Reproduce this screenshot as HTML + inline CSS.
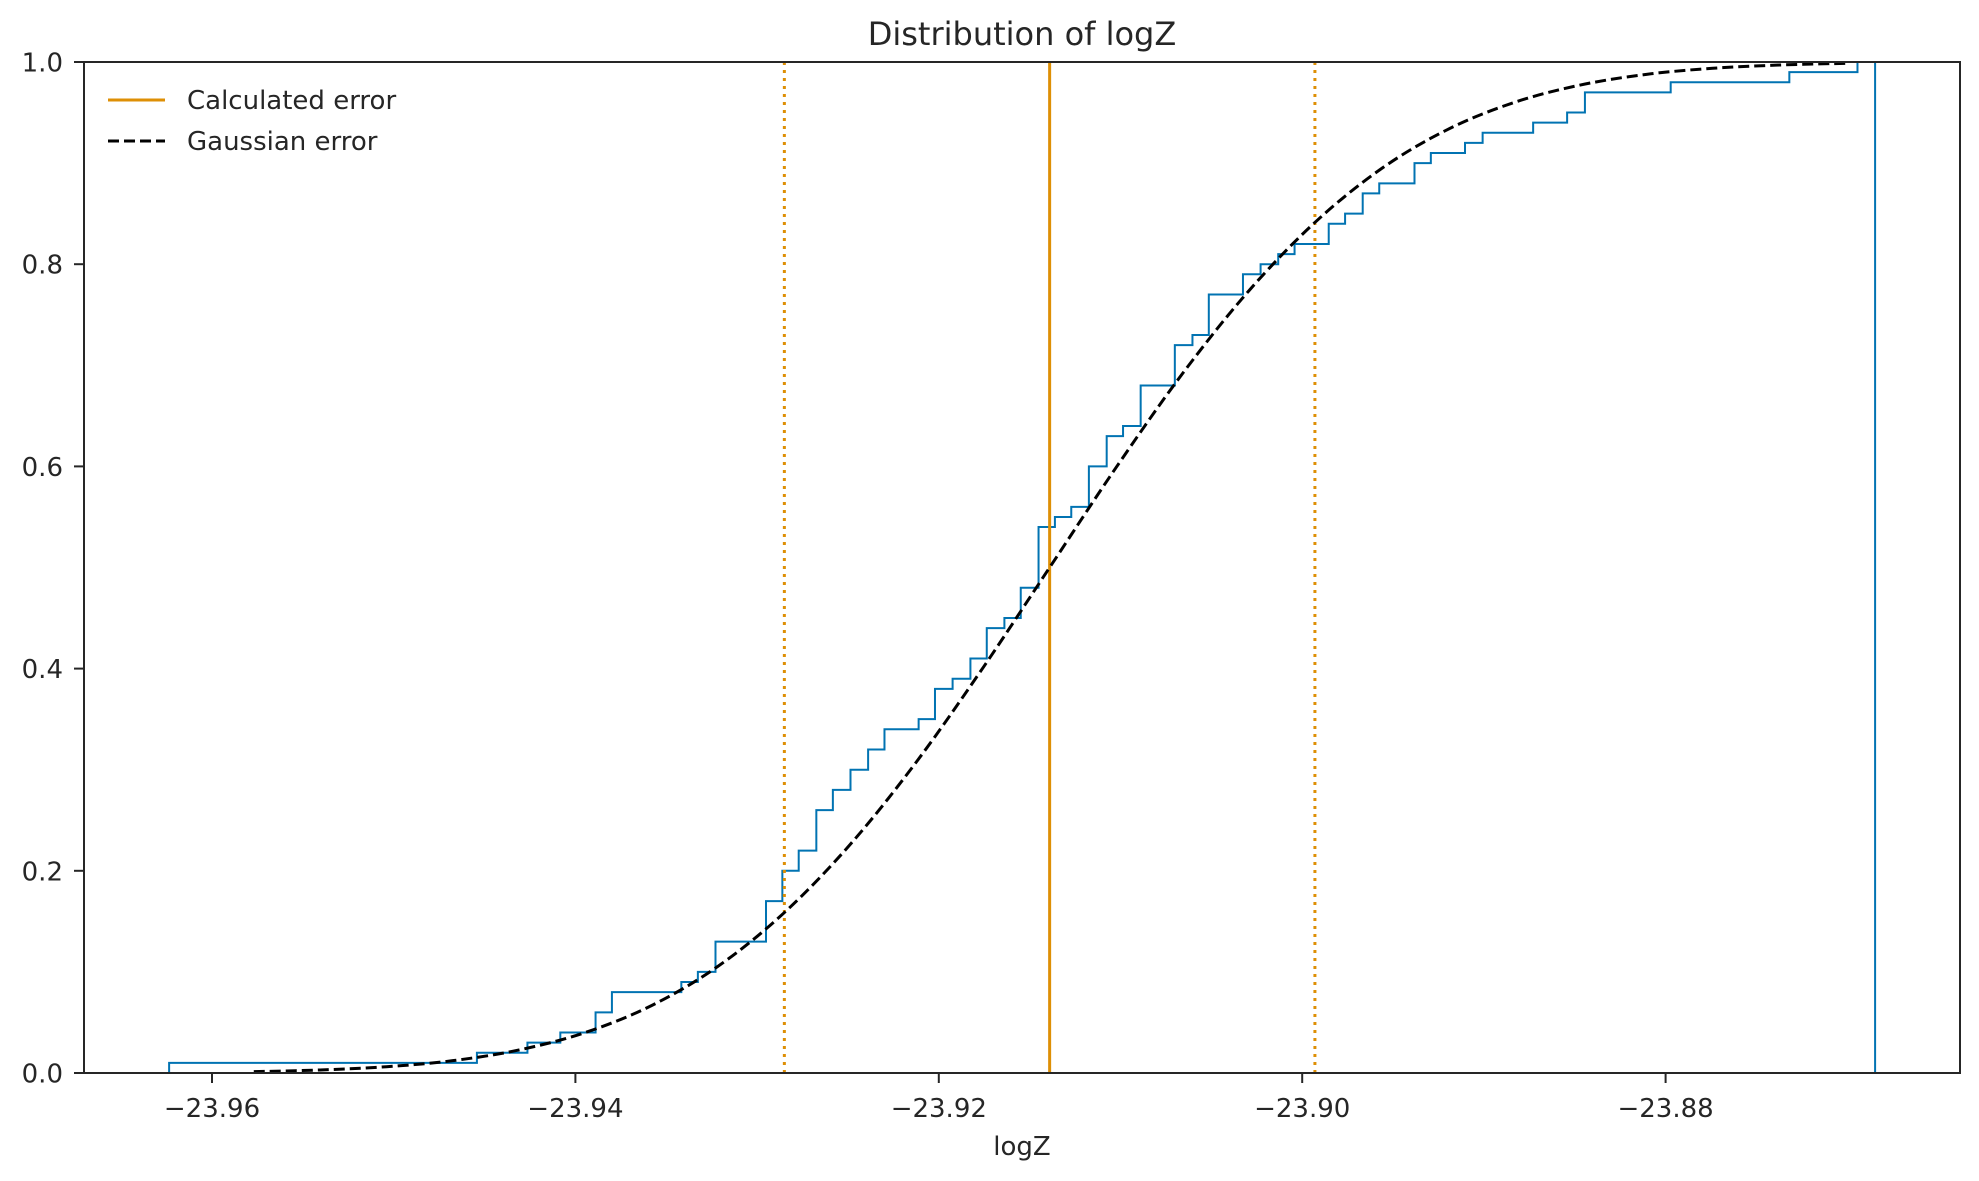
<!DOCTYPE html>
<html><head><meta charset="utf-8"><style>
html,body{margin:0;padding:0;background:#fff;}
svg{display:block;font-family:"DejaVu Sans","Liberation Sans",sans-serif;}
</style></head><body>
<svg id="chart" width="1979" height="1181" viewBox="0 0 1979 1181" xmlns="http://www.w3.org/2000/svg">
<rect width="1979" height="1181" fill="#fff"/>
<text x="1022" y="45" font-size="32" fill="#262626" text-anchor="middle">Distribution of logZ</text>
<g id="marks"></g>
<g id="axes"></g>
<g>
  <line x1="108" y1="100" x2="165" y2="100" stroke="#de8f05" stroke-width="3"/>
  <text x="187" y="109" font-size="26" fill="#262626">Calculated error</text>
  <line x1="108" y1="141" x2="165" y2="141" stroke="#000" stroke-width="3" stroke-dasharray="11,5"/>
  <text x="187" y="150" font-size="26" fill="#262626">Gaussian error</text>
</g>
</svg>
<script>
// ECDF step positions (logZ) and cumulative levels after each step
const stepX = [-23.96236,-23.94542,-23.94264,-23.94083,-23.93889,-23.93799,-23.93417,-23.93326,-23.93229,-23.92951,-23.92861,-23.92771,-23.92674,-23.92583,-23.92486,-23.92389,-23.92299,-23.92111,-23.92021,-23.91924,-23.91826,-23.91736,-23.91639,-23.91549,-23.91451,-23.91361,-23.91271,-23.91174,-23.91076,-23.90986,-23.90889,-23.90701,-23.90604,-23.90514,-23.90326,-23.90229,-23.90132,-23.90042,-23.89854,-23.89764,-23.89667,-23.89576,-23.89382,-23.89292,-23.89104,-23.89007,-23.88729,-23.88542,-23.88444,-23.87972,-23.87319,-23.86944];
const stepY = [0.01,0.02,0.03,0.04,0.06,0.08,0.09,0.10,0.13,0.17,0.20,0.22,0.26,0.28,0.30,0.32,0.34,0.35,0.38,0.39,0.41,0.44,0.45,0.48,0.54,0.55,0.56,0.60,0.63,0.64,0.68,0.72,0.73,0.77,0.79,0.80,0.81,0.82,0.84,0.85,0.87,0.88,0.90,0.91,0.92,0.93,0.94,0.95,0.97,0.98,0.99,1.00];
const histEnd = -23.86847;
// Gaussian CDF curve points
const gaussX = [-23.9577,-23.95405,-23.9504,-23.94675,-23.9431,-23.93945,-23.9358,-23.93215,-23.9285,-23.92485,-23.9212,-23.91755,-23.9139,-23.91025,-23.9066,-23.90295,-23.8993,-23.89565,-23.892,-23.88835,-23.8847,-23.88105,-23.8774,-23.87375,-23.8701];
const gaussY = [0.0013,0.0030,0.0062,0.0122,0.0228,0.0401,0.0668,0.1056,0.1587,0.2266,0.3085,0.4013,0.5,0.5987,0.6915,0.7734,0.8413,0.8944,0.9332,0.9599,0.9772,0.9878,0.9938,0.9970,0.9987];
// error lines: mean, lower, upper
const errMean = -23.9139;
const errLow = -23.9285;
const errHigh = -23.8993;
const xTicks = [-23.96,-23.94,-23.92,-23.90,-23.88];
const xTickLabels = ["\u221223.96","\u221223.94","\u221223.92","\u221223.90","\u221223.88"];
const yTicks = [0,0.2,0.4,0.6,0.8,1.0];
const yTickLabels = ["0.0","0.2","0.4","0.6","0.8","1.0"];

const L=84,R=1960,T=62,B=1073;
const XMIN=-23.96+(L-212)/363.4*0.02, XMAX=-23.96+(R-212)/363.4*0.02;
function sx(v){return L+(v-XMIN)/(XMAX-XMIN)*(R-L);}
function sy(v){return B-v*(B-T);}
const NS="http://www.w3.org/2000/svg";
function mk(tag,attrs,parent){const e=document.createElementNS(NS,tag);for(const k in attrs)e.setAttribute(k,attrs[k]);parent.appendChild(e);return e;}
const marks=document.getElementById('marks');
const axes=document.getElementById('axes');

// ECDF step path
let d='M'+sx(stepX[0])+','+sy(0);
let prev=0;
for(let i=0;i<stepX.length;i++){
  const x=sx(stepX[i]);
  if(i>0)d+=' H'+x;
  d+=' V'+sy(stepY[i]);
}
d+=' H'+sx(histEnd)+' V'+sy(0);
const ecdf=mk('path',{d:d,fill:'none',stroke:'#0173b2','stroke-width':2},marks);



// error lines
const ml=mk('line',{x1:sx(errMean),x2:sx(errMean),y1:T,y2:B,stroke:'#de8f05','stroke-width':3},marks);


[errLow,errHigh].forEach(function(v,i){
  const l=mk('line',{x1:sx(v),x2:sx(v),y1:T,y2:B,stroke:'#de8f05','stroke-width':3,'stroke-dasharray':'3,5'},marks);
  
  
});

// Gaussian curve (Catmull-Rom smoothing)
const pts=gaussX.map(function(v,i){return [sx(v),sy(gaussY[i])];});
let g='M'+pts[0][0]+','+pts[0][1];
for(let i=0;i<pts.length-1;i++){
  const p0=pts[Math.max(0,i-1)],p1=pts[i],p2=pts[i+1],p3=pts[Math.min(pts.length-1,i+2)];
  g+=' C'+(p1[0]+(p2[0]-p0[0])/6)+','+(p1[1]+(p2[1]-p0[1])/6)+' '+(p2[0]-(p3[0]-p1[0])/6)+','+(p2[1]-(p3[1]-p1[1])/6)+' '+p2[0]+','+p2[1];
}
const gc=mk('path',{d:g,fill:'none',stroke:'#000','stroke-width':3,'stroke-dasharray':'11,5'},marks);



// axes frame
const fr=mk('rect',{x:L,y:T,width:R-L,height:B-T,fill:'none',stroke:'#262626','stroke-width':2},axes);



xTicks.forEach(function(v,i){
  const x=sx(v);
  const t=mk('line',{x1:x,x2:x,y1:B,y2:B+10,stroke:'#262626','stroke-width':2},axes);
  
  
  const lb=mk('text',{x:x,y:1117,'font-size':26,fill:'#262626','text-anchor':'middle'},axes);
  lb.textContent=xTickLabels[i];
  
  
});
yTicks.forEach(function(v,i){
  const y=sy(v);
  const t=mk('line',{x1:L-10,x2:L,y1:y,y2:y,stroke:'#262626','stroke-width':2},axes);
  
  
  const lb=mk('text',{x:63,y:y+9.5,'font-size':26,fill:'#262626','text-anchor':'end'},axes);
  lb.textContent=yTickLabels[i];
  
  
});
const xl=mk('text',{x:1022,y:1155,'font-size':26,fill:'#262626','text-anchor':'middle'},axes);
xl.textContent='logZ';


</script>
</body></html>
